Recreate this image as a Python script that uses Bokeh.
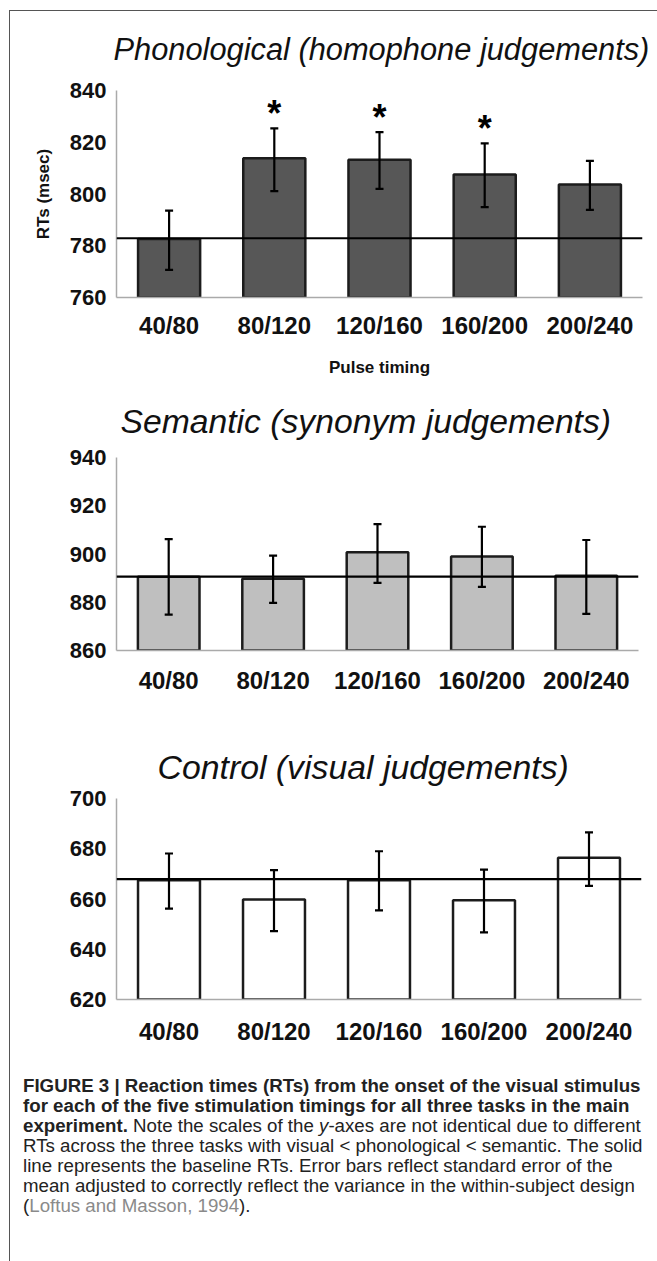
from bokeh.plotting import figure
from bokeh.models import FactorRange, Range1d, FixedTicker, ColumnDataSource, Whisker, TeeHead, Span, Div
from bokeh.layouts import column
from bokeh.embed import file_html
from bokeh.resources import INLINE
from bokeh.core.properties import value

# ---------------- data ----------------
timings = ["40/80", "80/120", "120/160", "160/200", "200/240"]

phon_rt = [782.6, 813.8, 813.2, 807.5, 803.7]
phon_err_center = [782.15, 813.25, 812.95, 807.25, 803.35]
phon_se = [11.45, 12.15, 10.95, 12.35, 9.45]
phon_baseline = 782.9
phon_sig = [False, True, True, True, False]
phon_ticks = [760, 780, 800, 820, 840]

sem_rt = [890.6, 889.7, 900.7, 899.0, 891.0]
sem_err_center = [890.55, 889.5, 900.2, 898.85, 890.5]
sem_se = [15.65, 9.8, 12.2, 12.45, 15.3]
sem_baseline = 890.6
sem_sig = [False, False, False, False, False]
sem_ticks = [860, 880, 900, 920, 940]

ctl_rt = [667.5, 659.8, 667.5, 659.5, 676.4]
ctl_err_center = [667.15, 659.35, 667.25, 659.2, 675.85]
ctl_se = [10.95, 12.15, 11.75, 12.5, 10.65]
ctl_baseline = 667.9
ctl_sig = [False, False, False, False, False]
ctl_ticks = [620, 640, 660, 680, 700]

FONT = "Liberation Sans"
W = 646


def panel(title, rt, err_c, se, base, sig, ticks, fill, fw, fh, left, top, bottom,
          title_size, title_offset, title_standoff, xlab_standoff, ylabel=None, xlabel=None):
    p = figure(x_range=FactorRange(factors=timings, range_padding=0),
               y_range=Range1d(ticks[0], ticks[-1]),
               frame_width=fw, frame_height=fh,
               min_border_left=left, min_border_right=W - left - fw,
               min_border_top=top, min_border_bottom=bottom,
               output_backend="svg", toolbar_location=None,
               background_fill_color="white", border_fill_color=None)
    p.outline_line_color = None
    p.grid.grid_line_color = None

    p.title.text = title
    p.title.text_font = FONT
    p.title.text_font_style = "italic"
    p.title.text_font_size = f"{title_size}px"
    p.title.text_color = "#111111"
    p.title.align = "left"
    p.title.offset = title_offset
    p.title.standoff = title_standoff

    src = ColumnDataSource(dict(
        x=timings, top=rt,
        upper=[c + s for c, s in zip(err_c, se)],
        lower=[c - s for c, s in zip(err_c, se)],
    ))
    p.vbar(x="x", top="top", bottom=ticks[0], width=0.59, source=src,
           fill_color=fill, line_color="#1c1c1c", line_width=2.5)

    p.add_layout(Span(location=base, dimension="width", line_color="#000000",
                      line_width=2.2, level="overlay"))

    w = Whisker(source=src, base="x", upper="upper", lower="lower", dimension="height",
                line_color="black", line_width=2.2, level="overlay",
                upper_head=TeeHead(size=8, line_width=2.2, line_color="black"),
                lower_head=TeeHead(size=8, line_width=2.2, line_color="black"))
    p.add_layout(w)

    sx = [t for t, s in zip(timings, sig) if s]
    sy = [c + s for c, s, g in zip(err_c, se, sig) if g]
    if sx:
        p.text(x=sx, y=sy, text=["*"] * len(sx), text_align="center", text_baseline="alphabetic",
               y_offset=-15, text_font=value(FONT), text_font_style="bold",
               text_font_size="36px", text_color="black")

    for ax in (p.xaxis[0], p.yaxis[0]):
        ax.axis_line_color = "#aaaaaa"
        ax.axis_line_width = 1.5
        ax.major_tick_line_color = None
        ax.minor_tick_line_color = None
        ax.major_label_text_font = FONT
        ax.major_label_text_font_style = "bold"
        ax.major_label_text_color = "#111111"

    p.yaxis.ticker = FixedTicker(ticks=ticks)
    p.yaxis.major_label_text_font_size = "22px"
    p.yaxis.major_label_standoff = 4
    p.xaxis.major_label_text_font_size = "24px"
    p.xaxis.major_label_standoff = xlab_standoff

    if ylabel:
        p.yaxis.axis_label = ylabel
        p.yaxis.axis_label_text_font = FONT
        p.yaxis.axis_label_text_font_style = "bold"
        p.yaxis.axis_label_text_font_size = "17px"
        p.yaxis.axis_label_text_color = "#111111"
        p.yaxis.axis_label_standoff = 14
    if xlabel:
        p.xaxis.axis_label = xlabel
        p.xaxis.axis_label_text_font = FONT
        p.xaxis.axis_label_text_font_style = "bold"
        p.xaxis.axis_label_text_font_size = "17px"
        p.xaxis.axis_label_text_color = "#111111"
        p.xaxis.axis_label_standoff = 16
    return p


p1 = panel("Phonological (homophone judgements)", phon_rt, phon_err_center, phon_se, phon_baseline,
           phon_sig, phon_ticks, "#575757", 526, 207, 104, 85, 82,
           30.8, -3, 47, 8, ylabel="RTs (msec)", xlabel="Pulse timing")
p1.styles = {"margin-top": "-6px"}
p2 = panel("Semantic (synonym judgements)", sem_rt, sem_err_center, sem_se, sem_baseline,
           sem_sig, sem_ticks, "#bfbfbf", 522, 193, 104, 78, 60,
           33.7, 4, 35, 10)
p3 = panel("Control (visual judgements)", ctl_rt, ctl_err_center, ctl_se, ctl_baseline,
           ctl_sig, ctl_ticks, "#ffffff", 525, 201, 106, 88, 61,
           33.8, 41, 26, 12)

caption_html = (
    '<div style="font-family:\'Liberation Sans\', Arial, sans-serif; font-size:18.7px; line-height:20px; '
    'color:#222; padding-left:8px; padding-top:11px; white-space:nowrap;">'
    '<b>FIGURE 3 | Reaction times (RTs) from the onset of the visual stimulus<br>'
    'for each of the five stimulation timings for all three tasks in the main<br>'
    'experiment.</b> Note the scales of the <i>y</i>-axes are not identical due to different<br>'
    'RTs across the three tasks with visual &lt; phonological &lt; semantic. The solid<br>'
    'line represents the baseline RTs. Error bars reflect standard error of the<br>'
    'mean adjusted to correctly reflect the variance in the within-subject design<br>'
    '(<span style="color:#8a8a8a">Loftus and Masson, 1994</span>).'
    '</div>'
)
cap = Div(text=caption_html, width=W, height=195)

layout = column(p1, p2, p3, cap, spacing=0,
                styles={"border-left": "1px solid #555555", "border-top": "1px solid #555555",
                        "margin-left": "9px", "margin-top": "10px",
                        "background-color": "white"})

open("out.html", "w").write(file_html(layout, INLINE))
